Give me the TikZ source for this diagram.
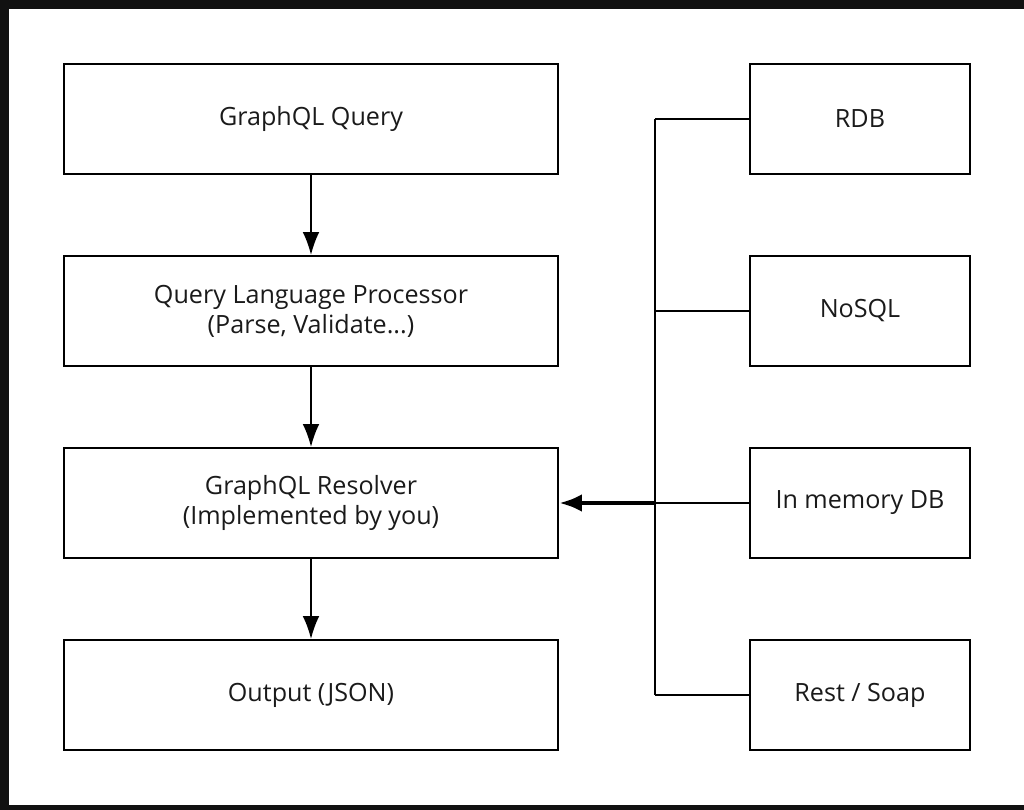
\documentclass[tikz,border=0pt]{standalone}
\usepackage{fontspec}
\setmainfont{Open Sans}
\usetikzlibrary{arrows.meta}
\definecolor{framegray}{HTML}{111111}
\definecolor{textgray}{HTML}{1A1A1A}
\tikzset{
  box/.style={draw, line width=1.1pt, minimum width=9.88cm, minimum height=2.2cm,
    align=center, text=textgray, font=\fontsize{14.3}{17}\selectfont},
  sidebox/.style={box, minimum width=4.4cm},
  link/.style={line width=1.1pt},
  flow/.style={link, -{Latex[length=13pt, width=9.5pt]}},
  feed/.style={line width=2.7pt, -{Latex[length=13pt, width=10pt]}}
}
\begin{document}
\begin{tikzpicture}[x=0.02cm, y=-0.02cm]
\useasboundingbox (0,0) rectangle (1024,810);
\fill[framegray] (0,0) rectangle (1024,810);
\fill[white] (9,9) rectangle (1024,805);

\node[box] (query) at (311,119) {GraphQL Query};
\node[box] (processor) at (311,311) {Query Language Processor\\(Parse, Validate...)};
\node[box] (resolver) at (311,503) {GraphQL Resolver\\(Implemented by you)};
\node[box] (output) at (311,695) {Output (JSON)};

\node[sidebox] (rdb) at (860,119) {RDB};
\node[sidebox] (nosql) at (860,311) {NoSQL};
\node[sidebox] (memdb) at (860,503) {In memory DB};
\node[sidebox] (rest) at (860,695) {Rest / Soap};

\draw[flow] (query) -- (processor);
\draw[flow] (processor) -- (resolver);
\draw[flow] (resolver) -- (output);

\coordinate (bustop) at (655,119);
\coordinate (busbot) at (655,695);
\draw[link] (bustop) -- (busbot);
\foreach \src in {rdb,nosql,memdb,rest}
  \draw[link] (\src.west) -- (\src.west -| bustop);
\draw[feed] (memdb.west -| bustop) -- (resolver.east);
\end{tikzpicture}
\end{document}
